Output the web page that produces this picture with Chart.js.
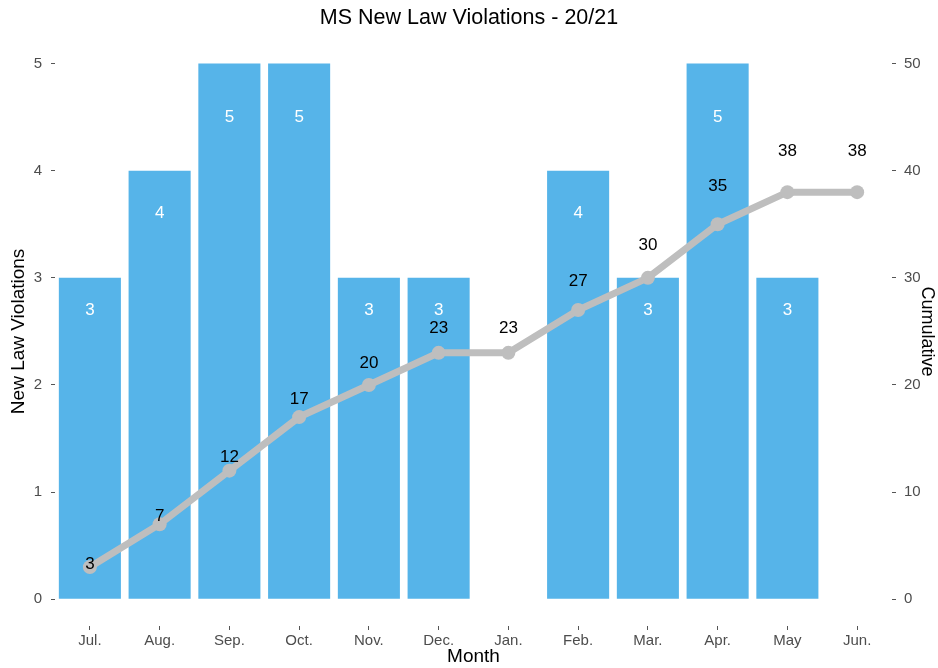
<!DOCTYPE html>
<html>
<head>
<meta charset="utf-8">
<script src="https://cdn.jsdelivr.net/npm/chart.js@4/dist/chart.umd.min.js"></script>
<style>
  html, body { margin: 0; padding: 0; background: #fff; }
  #wrap { width: 938px; height: 668px; }
</style>
</head>
<body>
<div id="wrap"><canvas id="lawChart" width="938" height="668"></canvas></div>
<script>
// data
const months = ['Jul.', 'Aug.', 'Sep.', 'Oct.', 'Nov.', 'Dec.', 'Jan.', 'Feb.', 'Mar.', 'Apr.', 'May', 'Jun.'];
const newViolations = [3, 4, 5, 5, 3, 3, 0, 4, 3, 5, 3, 0];
const cumulative = [3, 7, 12, 17, 20, 23, 23, 27, 30, 35, 38, 38];
const leftTicks = [0, 1, 2, 3, 4, 5];
const rightTicks = [0, 10, 20, 30, 40, 50];

const FONT = "'Liberation Sans', Arial, sans-serif";
const tickColor = '#4d4d4d';

// value labels: white inside bars (at 90% of height), black above line points (at 110%)
const labelPlugin = {
    id: 'valueLabels',
    afterDatasetsDraw(chart) {
        const ctx = chart.ctx;
        const y = chart.scales.y;
        const y1 = chart.scales.y1;
        const barMeta = chart.getDatasetMeta(1);
        ctx.save();
        ctx.textAlign = 'center';
        ctx.textBaseline = 'middle';
        ctx.font = '17px ' + FONT;
        ctx.fillStyle = '#ffffff';
        newViolations.forEach(function(v, i) {
            if (!v) return;
            ctx.fillText(String(v), barMeta.data[i].x, y.getPixelForValue(v * 0.9));
        });
        ctx.fillStyle = '#000000';
        cumulative.forEach(function(v, i) {
            ctx.fillText(String(v), barMeta.data[i].x, y1.getPixelForValue(v * 1.1));
        });
        ctx.restore();
    }
};

new Chart(document.getElementById('lawChart').getContext('2d'), {
    data: {
        labels: months,
        datasets: [
            {
                type: 'line',
                label: 'Cumulative',
                data: cumulative,
                yAxisID: 'y1',
                borderColor: '#bebebe',
                backgroundColor: '#bebebe',
                borderWidth: 7,
                pointRadius: 7,
                pointBorderWidth: 0,
                tension: 0,
                order: 1
            },
            {
                type: 'bar',
                label: 'New Law Violations',
                data: newViolations,
                yAxisID: 'y',
                backgroundColor: '#56b4e9',
                barPercentage: 0.89,
                categoryPercentage: 1.0,
                order: 2
            }
        ]
    },
    options: {
        responsive: false,
        animation: false,
        layout: { padding: 0 },
        plugins: {
            legend: { display: false },
            tooltip: { enabled: false },
            title: {
                display: true,
                text: 'MS New Law Violations - 20/21',
                color: '#000',
                font: { family: FONT, size: 21.5, weight: 'normal' },
                padding: { top: 5, bottom: 6 }
            }
        },
        scales: {
            x: {
                offset: true,
                grid: { display: true, drawOnChartArea: false, offset: false, tickLength: 4, color: '#555' },
                border: { display: false },
                ticks: { color: tickColor, font: { family: FONT, size: 15 }, padding: 2, maxRotation: 0 },
                title: {
                    display: true, text: 'Month', color: '#000',
                    font: { family: FONT, size: 19 }, padding: { top: 0, bottom: 0 }
                },
                afterFit: function(s) { s.height = 42; }
            },
            y: {
                position: 'left',
                min: -0.25,
                max: 5.25,
                afterBuildTicks: function(s) { s.ticks = leftTicks.map(v => ({ value: v })); },
                grid: { display: true, drawOnChartArea: false, tickLength: 4, color: '#555' },
                border: { display: false },
                ticks: { color: tickColor, font: { family: FONT, size: 15 }, padding: 9 },
                title: {
                    display: true, text: 'New Law Violations', color: '#000',
                    font: { family: FONT, size: 19 }, padding: { top: 7, bottom: 0 }
                },
                afterFit: function(s) { s.width = 55; }
            },
            y1: {
                position: 'right',
                min: -2.5,
                max: 52.5,
                afterBuildTicks: function(s) { s.ticks = rightTicks.map(v => ({ value: v })); },
                grid: { display: true, drawOnChartArea: false, tickLength: 4, color: '#555' },
                border: { display: false },
                ticks: { color: tickColor, font: { family: FONT, size: 15 }, padding: 8 },
                title: {
                    display: true, text: 'Cumulative', color: '#000',
                    font: { family: FONT, size: 18 }, padding: { top: 0, bottom: 0 }
                },
                afterFit: function(s) { s.width = 46; }
            }
        }
    },
    plugins: [labelPlugin]
});
</script>
</body>
</html>
